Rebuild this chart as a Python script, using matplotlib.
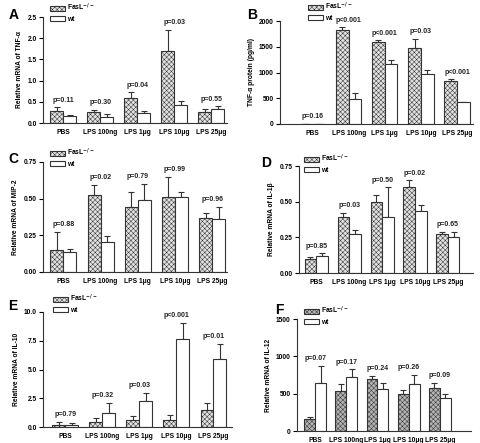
import matplotlib
matplotlib.use("Agg")
import matplotlib.pyplot as plt
import numpy as np

plt.rcParams['font.family'] = ['Liberation Sans', 'DejaVu Sans']
plt.rcParams['font.weight'] = 'bold'
plt.rcParams['hatch.linewidth'] = 0.35

groups = ['PBS', 'LPS 100ng', 'LPS 1\u03bcg', 'LPS 10\u03bcg', 'LPS 25\u03bcg']

# A: TNF-a mRNA
a_fas = [0.29, 0.25, 0.59, 1.69, 0.27]
a_fas_err = [0.08, 0.06, 0.14, 0.51, 0.07]
a_wt = [0.16, 0.14, 0.23, 0.42, 0.34]
a_wt_err = [0.04, 0.07, 0.06, 0.10, 0.05]
a_p = ['p=0.11', 'p=0.30', 'p=0.04', 'p=0.03', 'p=0.55']

# B: TNF-a protein
b_fas = [8, 1819, 1600, 1471, 826]
b_fas_err = [0, 65, 32, 187, 39]
b_wt = [6, 484, 1174, 968, 419]
b_wt_err = [0, 110, 78, 90, 13]
b_p = ['p=0.16', 'p<0.001', 'p<0.001', 'p=0.03', 'p<0.001']

# C: MIP-2
c_fas = [0.153, 0.526, 0.446, 0.508, 0.371]
c_fas_err = [0.122, 0.069, 0.099, 0.142, 0.034]
c_wt = [0.133, 0.206, 0.490, 0.508, 0.364]
c_wt_err = [0.027, 0.039, 0.110, 0.037, 0.082]
c_p = ['p=0.88', 'p=0.02', 'p=0.79', 'p=0.99', 'p=0.96']

# D: IL-1b
d_fas = [0.100, 0.394, 0.499, 0.603, 0.271]
d_fas_err = [0.009, 0.028, 0.046, 0.047, 0.014]
d_wt = [0.120, 0.271, 0.394, 0.436, 0.253]
d_wt_err = [0.017, 0.029, 0.209, 0.040, 0.037]
d_p = ['p=0.85', 'p=0.03', 'p=0.50', 'p=0.02', 'p=0.65']

# E: IL-10
e_fas = [0.20, 0.40, 0.63, 0.60, 1.44]
e_fas_err = [0.23, 0.38, 0.37, 0.47, 0.63]
e_wt = [0.17, 1.21, 2.30, 7.67, 5.88]
e_wt_err = [0.15, 0.92, 0.64, 1.35, 1.38]
e_p = ['p=0.79', 'p=0.32', 'p=0.03', 'p<0.001', 'p=0.01']

# F: IL-12
f_fas = [157, 539, 691, 489, 575]
f_fas_err = [32, 90, 45, 59, 72]
f_wt = [647, 718, 566, 629, 440]
f_wt_err = [224, 108, 81, 121, 49]
f_p = ['p=0.07', 'p=0.17', 'p=0.24', 'p=0.26', 'p=0.09']

W, H = 480, 443
fig = plt.figure(figsize=(W / 100, H / 100), dpi=100)
FS = 4.8


def px_axes(left, top, right, bottom):
    return fig.add_axes([left / W, 1 - bottom / H, (right - left) / W, (bottom - top) / H])


def panel(rect, fas, fas_err, wt, wt_err, pvals, ylabel, yticks, yticklabels, xlim,
          letter, letter_xy, legend_xy, fascolor='#e2e2e2', hatchcolor='#a0a0a0', poff=0.065):
    ax = px_axes(*rect)
    x = np.arange(len(groups))
    w = 0.35
    ymax = yticks[-1]
    plt.rcParams['hatch.color'] = hatchcolor
    b1 = ax.bar(x - w / 2, fas, w, color=fascolor, edgecolor='#333333', linewidth=0.8,
                hatch='xxxxxxx', zorder=2)
    b2 = ax.bar(x + w / 2, wt, w, color='white', edgecolor='#333333', linewidth=0.8, zorder=2)
    ax.errorbar(x - w / 2, fas, yerr=[np.zeros(len(fas)), fas_err], fmt='none',
                ecolor='#333333', elinewidth=0.8, capsize=2.5, capthick=0.8, zorder=1)
    ax.errorbar(x + w / 2, wt, yerr=[np.zeros(len(wt)), wt_err], fmt='none',
                ecolor='#333333', elinewidth=0.8, capsize=2.5, capthick=0.8, zorder=1)
    tops = np.maximum(np.array(fas) + np.array(fas_err), np.array(wt) + np.array(wt_err))
    for xi, t, p in zip(x, tops, pvals):
        ax.text(xi, t + poff * ymax, p, ha='center', va='center', fontsize=5.0,
                fontweight='bold', color='#222222')
    ax.set_ylim(0, ymax)
    ax.set_xlim(*xlim)
    ax.set_yticks(yticks)
    ax.set_yticklabels(yticklabels)
    ax.set_xticks(x)
    ax.set_xticklabels(groups)
    ax.tick_params(axis='x', length=0, labelsize=FS, pad=4)
    ax.tick_params(axis='y', length=3, width=0.8, labelsize=FS, pad=1.5)
    for s in ['top', 'right']:
        ax.spines[s].set_visible(False)
    for s in ['left', 'bottom']:
        ax.spines[s].set_linewidth(0.8)
        ax.spines[s].set_color('#333333')
    ax.set_ylabel(ylabel, fontsize=FS, fontweight='bold', labelpad=3)
    fig.text(letter_xy[0] / W, 1 - letter_xy[1] / H, letter, fontsize=10, fontweight='bold',
             ha='left', va='center')
    fig.legend([b1, b2], ['FasL$^{-/-}$', 'wt'], loc='upper left',
               bbox_to_anchor=(legend_xy[0] / W, 1 - legend_xy[1] / H),
               frameon=False, fontsize=FS, handlelength=2.3, handleheight=0.7,
               labelspacing=0.35, borderpad=0, borderaxespad=0, handletextpad=0.3)
    return ax


panel((43, 17, 227, 123), a_fas, a_fas_err, a_wt, a_wt_err, a_p,
      'Relative mRNA of TNF-\u03b1', [0, 0.5, 1.0, 1.5, 2.0, 2.5],
      ['0.0', '0.5', '1.0', '1.5', '2.0', '2.5'], (-0.55, 4.42), 'A', (9, 15), (50, 2))

panel((280, 21, 473, 124), b_fas, b_fas_err, b_wt, b_wt_err, b_p,
      'TNF-\u03b1 protein (pg/ml)', [0, 500, 1000, 1500, 2000],
      ['0', '500', '1000', '1500', '2000'], (-0.9, 4.44), 'B', (247, 15), (308, 1))

panel((43, 162, 227, 272), c_fas, c_fas_err, c_wt, c_wt_err, c_p,
      'Relative mRNA of MIP-2', [0, 0.25, 0.50, 0.75],
      ['0.00', '0.25', '0.50', '0.75'], (-0.55, 4.4), 'C', (8, 159), (50, 147))

panel((299, 166, 473, 273), d_fas, d_fas_err, d_wt, d_wt_err, d_p,
      'Relative mRNA of IL-1\u03b2', [0, 0.25, 0.50, 0.75],
      ['0.00', '0.25', '0.50', '0.75'], (-0.52, 4.76), 'D', (261, 163), (304, 153))

panel((43, 312, 232, 427), e_fas, e_fas_err, e_wt, e_wt_err, e_p,
      'Relative mRNA of IL-10', [0, 2.5, 5.0, 7.5, 10.0],
      ['0.0', '2.5', '5.0', '7.5', '10.0'], (-0.6, 4.5), 'E', (8, 306), (53, 293))

panel((297, 319, 471, 431), f_fas, f_fas_err, f_wt, f_wt_err, f_p,
      'Relative mRNA of IL-12', [0, 500, 1000, 1500],
      ['0', '500', '1000', '1500'], (-0.58, 5.0), 'F', (275, 310), (304, 305),
      fascolor='#b4b4b4', hatchcolor='#707070')

fig.savefig('out.png', dpi=100)
